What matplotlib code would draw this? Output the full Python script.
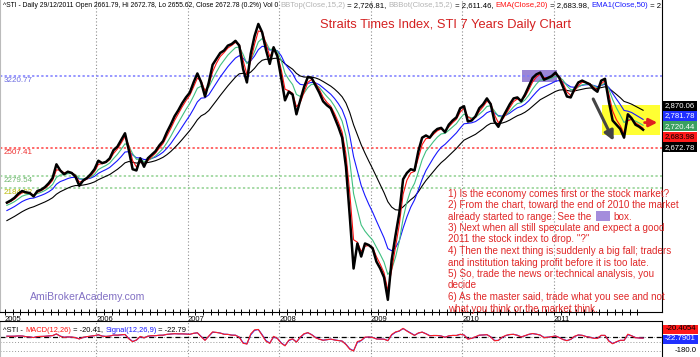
import numpy as np
import matplotlib
matplotlib.use("Agg")
import matplotlib.pyplot as plt
from matplotlib.patches import Rectangle

plt.rcParams["font.family"] = ["Liberation Sans", "DejaVu Sans"]

W, H = 700, 357

# half-monthly closes of the STI (two points per month)
years = [2005, 2006, 2007, 2008, 2009, 2010, 2011]
close_2005 = [2075, 2090, 2110, 2140, 2160, 2150, 2145, 2120, 2160, 2170, 2190, 2220,
              2260, 2370, 2320, 2290, 2310, 2300, 2270, 2200, 2240, 2260, 2290, 2330]
close_2006 = [2400, 2380, 2390, 2420, 2490, 2520, 2580, 2640, 2490, 2330, 2320, 2420,
              2350, 2420, 2450, 2480, 2530, 2570, 2650, 2720, 2800, 2860, 2930, 2990]
close_2007 = [3040, 3150, 3250, 3150, 3000, 3150, 3350, 3420, 3490, 3520, 3580, 3600,
              3640, 3580, 3300, 3150, 3480, 3700, 3860, 3750, 3530, 3360, 3560, 3450]
close_2008 = [3200, 2960, 3050, 3020, 2820, 2960, 3100, 3210, 3200, 3120, 3040, 2950,
              2910, 2880, 2790, 2700, 2600, 2350, 1980, 1650, 1800, 1720, 1800, 1790]
close_2009 = [1770, 1690, 1650, 1600, 1480, 1700, 1850, 2000, 2250, 2300, 2330, 2320,
              2480, 2600, 2620, 2600, 2650, 2680, 2690, 2650, 2720, 2760, 2790, 2880]
close_2010 = [2900, 2750, 2760, 2800, 2880, 2920, 2980, 2920, 2750, 2700, 2780, 2850,
              2920, 2980, 2990, 2950, 3020, 3110, 3200, 3240, 3260, 3180, 3200, 3220]
close_2011 = [3260, 3200, 3100, 3000, 2990, 3080, 3150, 3170, 3150, 3130, 3080, 3050,
              3170, 3190, 2950, 2760, 2720, 2680, 2600, 2820, 2780, 2720, 2700, 2672.78]

# EMA starting levels read at the left edge of the chart
ema_periods = [20, 50, 100, 200]
ema_colors = ["#ff1010", "#40c080", "#1818ff", "#000000"]
ema_start = [2060, 2045, 2005, 1935]
macd_start = [2060, 2045, 12]   # ema12, ema26, signal

levels = [3220.77, 2507.41, 2279.54, 2184.02]
level_colors = ["#7b7bff", "#ff4040", "#8fd18f", "#8fd18f"]
level_text_colors = ["#6a6ae0", "#ee3030", "#6cb46c", "#b8b800"]

right_labels = ["2,870.06", "2,781.78", "2,720.44", "2,683.98", "2,672.78"]
right_bg = ["#000000", "#2030ff", "#3aa060", "#ff1a1a", "#000000"]
right_fg = ["white", "white", "white", "black", "white"]

STEP_DAYS = 252 / 24

closes = np.array(close_2005 + close_2006 + close_2007 + close_2008 +
                  close_2009 + close_2010 + close_2011, dtype=float)
t = np.concatenate([y + (np.arange(24) + 0.5) / 24 for y in years])


def ema(values, n, start):
    a = 1 - (1 - 2 / (n + 1)) ** STEP_DAYS
    out, e = [], start
    for v in values:
        e = e + a * (v - e)
        out.append(e)
    return np.array(out)


fig = plt.figure(figsize=(7, 3.57), dpi=100)
ax = fig.add_axes([0, 45 / H, 662 / W, 312 / H])
mx = fig.add_axes([0, 0, 662 / W, 36 / H])

x0, x1 = 2005 - 5 / 91.43, 2012 + 17 / 91.43
ax.set_xlim(x0, x1)
ax.set_yscale("log")
ax.set_ylim(1418.6, 4195)
ax.yaxis.set_major_locator(matplotlib.ticker.NullLocator())
ax.yaxis.set_minor_locator(matplotlib.ticker.NullLocator())

# shaded areas
ax.add_patch(Rectangle((2010.66, 3155), 0.38, 135, fc="#9b86d6", ec="none", zorder=1))
ax.add_patch(Rectangle((2011.53, 2627), 0.635, 286, fc="#ffff33", ec="none", zorder=1))

for yr in years[1:]:
    ax.axvline(yr, color="#8c8c8c", ls=(0, (1, 2)), lw=0.8, zorder=0)
    mx.axvline(yr, color="#8c8c8c", ls=(0, (1, 2)), lw=0.8, zorder=0)

for lv, lc, tc in zip(levels, level_colors, level_text_colors):
    ax.axhline(lv, color=lc, ls=(0, (1.5, 1.5)), lw=1.1, zorder=2)
    ax.annotate(f"{lv:.2f}", (0.006, lv), xycoords=("axes fraction", "data"),
                xytext=(0, -1), textcoords="offset points", va="top", ha="left",
                fontsize=5.8, color=tc, zorder=2)

for n, c, s in zip(ema_periods[::-1], ema_colors[::-1], ema_start[::-1]):
    ax.plot(t, ema(closes, n, s), color=c, lw=0.8, zorder=3)
ax.plot(t, closes, color="black", lw=1.8, zorder=5)

# arrows
ax.annotate("", xy=(2011.67, 2550), xytext=(2011.42, 3000),
            arrowprops=dict(arrowstyle="-|>", color="#444444", lw=2.2, mutation_scale=14),
            zorder=6)
ax.annotate("", xy=(2012.165, 2740), xytext=(2011.965, 2740),
            arrowprops=dict(arrowstyle="-|>", color="#e02020", lw=2, mutation_scale=12),
            zorder=6)

ax.set_xticks(years)
ax.set_xticklabels([str(y) for y in years], ha="left", fontsize=5.5)
ax.set_xticks([y + m / 12 for y in years for m in range(1, 12)], minor=True)
ax.tick_params(axis="x", which="both", direction="inout", length=4.5, width=0.7, pad=0.3)
ax.spines["top"].set_visible(False)
ax.spines["left"].set_color("#bbbbbb")
ax.spines["right"].set_color("black")
ax.spines["bottom"].set_linewidth(0.8)

ax.text(0.046, (357 - 297 - 45) / 312, "AmiBrokerAcademy.com", transform=ax.transAxes,
        fontsize=7.6, color="#8270c4", va="center", ha="left")

# MACD pane
ema12 = ema(closes, 12, macd_start[0])
ema26 = ema(closes, 26, macd_start[1])
macd = ema12 - ema26
signal = ema(macd, 9, macd_start[2])
mx.set_xlim(x0, x1)
mx.set_ylim(-257, 206)
mx.axhline(0, color="#999999", ls=(0, (1, 2)), lw=0.7)
mx.axhline(-64, color="#999999", ls=(0, (1, 2)), lw=0.7)
mx.axhline(-180, color="#999999", ls=(0, (1, 2)), lw=0.7)
mx.axhline(0, color="black", ls=(0, (4, 3)), lw=0.9)
mx.plot(t, signal, color="#2020ff", lw=0.8)
mx.plot(t, macd, color="#ff2020", lw=0.8)
mx.set_xticks([])
mx.set_yticks([])
mx.spines["bottom"].set_visible(False)
mx.spines["left"].set_color("#bbbbbb")
mx.spines["top"].set_linewidth(0.8)

renderer = fig.canvas.get_renderer()


def draw_runs(x_px, base_px, runs, size, clip=None):
    x = x_px
    for s, c in runs:
        txt = fig.text(x / W, 1 - base_px / H, s, color=c, fontsize=size,
                       va="baseline", ha="left", zorder=10)
        if clip is not None:
            txt.set_clip_box(clip.bbox)
            txt.set_clip_on(True)
        x += txt.get_window_extent(renderer).width
    return x


xe = draw_runs(3, 7, [
    ("^STI - Daily 29/12/2011 Open 2661.79, Hi 2672.78, Lo 2655.62, Close 2672.78 (0.2%) Vol 0 ", "black"),
], 4.9, clip=ax)
draw_runs(xe, 7, [
    ("BBTop(Close,15,2)", "#b4b4b4"), (" = 2,726.81, ", "black"),
    ("BBBot(Close,15,2)", "#b4b4b4"), (" = 2,611.46, ", "black"),
    ("EMA(Close,20)", "#ff1010"), (" = 2,683.98, ", "black"),
    ("EMA1(Close,50)", "#1818ff"), (" = 2,720.44", "black"),
], 5.6, clip=ax)

draw_runs(3, 331.5, [
    ("^STI - ", "black"), ("MACD(12,26)", "#ff1010"), (" = -20.41, ", "black"),
    ("Signal(12,26,9)", "#1818ff"), (" = -22.79", "black"),
], 5.4)

fig.text(446 / W, 1 - 25 / H, "Straits Times Index, STI 7 Years Daily Chart",
         color="#d42020", fontsize=9.3, ha="center", va="center")

ann_lines = [
    "1) Is the economy comes first or the stock market?",
    "2) From the chart, toward the end of 2010 the market",
    "already started to range. See the ",
    "3) Next when all still speculate and expect a good",
    "2011 the stock index to drop. \"?\"",
    "4) Then the next thing is suddenly a big fall; traders",
    "and institution taking profit before it is too late.",
    "5) So, trade the news or technical analysis, you",
    "decide",
    "6) As the master said, trade what you see and not",
    "what you think or the market think.",
]
for i, line in enumerate(ann_lines):
    base = 196.5 + i * 11.5
    xe = draw_runs(448, base, [(line, "#e02828")], 7.1)
    if i == 2:
        fig.add_artist(Rectangle(((xe + 2) / W, 1 - (base + 1) / H), 14 / W, 9.5 / H,
                                 transform=fig.transFigure, fc="#a48ddc", ec="none"))
        draw_runs(xe + 19, base, [("box.", "#e02828")], 7.1)

# right-hand value tags
for i, (lab, bg, fg) in enumerate(zip(right_labels, right_bg, right_fg)):
    yc = 105.5 + i * 10.45
    fig.add_artist(Rectangle((663 / W, 1 - (yc + 5) / H), 34 / W, 10 / H,
                             transform=fig.transFigure, fc=bg, ec="none"))
    fig.text(680 / W, 1 - yc / H, lab, color=fg, fontsize=5.6, ha="center", va="center")

for lab, bg, fg, yc in [("-20.4054", "#ff1a1a", "black", 329), ("-22.7901", "#2030ff", "white", 339)]:
    fig.add_artist(Rectangle((663 / W, 1 - (yc + 4.5) / H), 35 / W, 9 / H,
                             transform=fig.transFigure, fc=bg, ec="none"))
    fig.text(680.5 / W, 1 - yc / H, lab, color=fg, fontsize=5.6, ha="center", va="center")
fig.text(697 / W, 1 - 351 / H, "-180.0", color="black", fontsize=5.6, ha="right", va="center")

fig.savefig("out.png", dpi=100)
